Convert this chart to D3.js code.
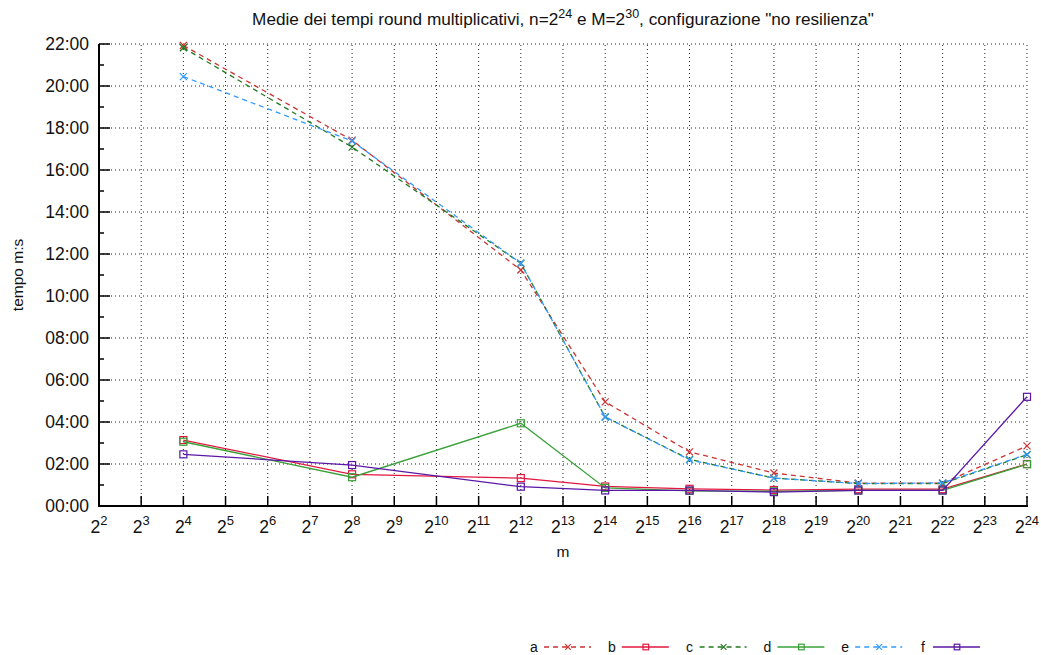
<!DOCTYPE html>
<html>
<head>
<meta charset="utf-8">
<script src="https://cdn.jsdelivr.net/npm/d3@7"></script>
<style>
  body { margin: 0; background: #fff; }
  svg { display: block; font-family: "Liberation Sans", Arial, sans-serif; }
</style>
</head>
<body>
<svg width="1041" height="655"></svg>
<script>
// exponents of m (x = 2^k), ticks from 2^2 to 2^24
const xTicks = d3.range(2, 25);
const exps = [4, 8, 12, 14, 16, 18, 20, 22, 24];

// mean times, in minutes
const serA = [21.93, 17.42, 11.24, 4.96, 2.58, 1.57, 1.09, 1.09, 2.86];
const serB = [3.14, 1.51, 1.33, 0.93, 0.82, 0.76, 0.80, 0.80, 2.00];
const serC = [21.82, 17.09, 11.56, 4.24, 2.22, 1.33, 1.07, 1.07, 2.44];
const serD = [3.06, 1.37, 3.94, 0.86, 0.72, 0.70, 0.74, 0.74, 1.99];
const serE = [20.45, 17.38, 11.56, 4.24, 2.20, 1.33, 1.07, 1.10, 2.46];
const serF = [2.46, 1.95, 0.92, 0.74, 0.74, 0.66, 0.74, 0.74, 5.20];

const yTicks = d3.range(0, 23, 2);
const yMinor = d3.range(1, 22, 2);

const series = [
  { name: "a", vals: serA, color: "#cc3333", dash: "5,4", mark: "x" },
  { name: "b", vals: serB, color: "#e3173f", dash: null, mark: "sq" },
  { name: "c", vals: serC, color: "#1f7a1f", dash: "5,4", mark: "x" },
  { name: "d", vals: serD, color: "#38a038", dash: null, mark: "sq" },
  { name: "e", vals: serE, color: "#3399ff", dash: "5,4", mark: "x" },
  { name: "f", vals: serF, color: "#5a17a6", dash: null, mark: "sq" }
];

const svg = d3.select("svg");
const pL = 99, pR = 1027, pT = 44, pB = 506;

const x = d3.scaleLinear().domain([2, 24]).range([pL, pR]);
const y = d3.scaleLinear().domain([0, 22]).range([pB, pT]);

const fmt = m => d3.format("02d")(m) + ":00";

// grid
svg.append("g").selectAll("line")
  .data(yTicks.slice(1))
  .enter().append("line")
  .attr("x1", pL).attr("x2", pR)
  .attr("y1", d => y(d)).attr("y2", d => y(d))
  .attr("stroke", "#222").attr("stroke-width", 1)
  .attr("stroke-dasharray", "1,3");

svg.append("g").selectAll("line")
  .data(xTicks.slice(1))
  .enter().append("line")
  .attr("x1", d => x(d)).attr("x2", d => x(d))
  .attr("y1", pB).attr("y2", pT)
  .attr("stroke", "#222").attr("stroke-width", 1)
  .attr("stroke-dasharray", "1,3");

// axes lines
svg.append("line").attr("x1", pL).attr("x2", pL).attr("y1", pB + 1).attr("y2", pT)
  .attr("stroke", "#000").attr("stroke-width", 2);
svg.append("line").attr("x1", pL - 1).attr("x2", pR + 1).attr("y1", pB).attr("y2", pB)
  .attr("stroke", "#000").attr("stroke-width", 2);

// y ticks (inward)
svg.append("g").selectAll("line")
  .data(yTicks)
  .enter().append("line")
  .attr("x1", pL).attr("x2", pL + 11)
  .attr("y1", d => y(d)).attr("y2", d => y(d))
  .attr("stroke", "#000").attr("stroke-width", 1.5);
svg.append("g").selectAll("line")
  .data(yMinor)
  .enter().append("line")
  .attr("x1", pL).attr("x2", pL + 5)
  .attr("y1", d => y(d)).attr("y2", d => y(d))
  .attr("stroke", "#000").attr("stroke-width", 1.5);

svg.append("g").selectAll("text")
  .data(yTicks)
  .enter().append("text")
  .attr("x", pL - 10).attr("y", d => y(d) + 6)
  .attr("text-anchor", "end")
  .attr("font-size", 17.5)
  .attr("fill", "#111")
  .text(fmt);

// x ticks (inward, upward)
svg.append("g").selectAll("line")
  .data(xTicks)
  .enter().append("line")
  .attr("x1", d => x(d)).attr("x2", d => x(d))
  .attr("y1", pB).attr("y2", pB - 10)
  .attr("stroke", "#000").attr("stroke-width", 1.5);

const xl = svg.append("g").selectAll("text")
  .data(xTicks)
  .enter().append("text")
  .attr("x", d => x(d)).attr("y", 533)
  .attr("text-anchor", "middle")
  .attr("font-size", 17.5)
  .attr("fill", "#111");
xl.append("tspan").text("2");
xl.append("tspan").attr("dy", -8).attr("font-size", 13).text(d => d);

// titles
const title = svg.append("text")
  .attr("x", (pL + pR) / 2).attr("y", 25)
  .attr("text-anchor", "middle")
  .attr("font-size", 17.2)
  .attr("fill", "#111");
title.append("tspan").text("Medie dei tempi round multiplicativi, n=2");
title.append("tspan").attr("dy", -7).attr("font-size", 12.5).text("24");
title.append("tspan").attr("dy", 7).text(" e M=2");
title.append("tspan").attr("dy", -7).attr("font-size", 12.5).text("30");
title.append("tspan").attr("dy", 7).text(", configurazione \"no resilienza\"");

svg.append("text")
  .attr("transform", "translate(23," + ((pT + pB) / 2) + ") rotate(-90)")
  .attr("text-anchor", "middle")
  .attr("font-size", 15.5)
  .attr("fill", "#111")
  .text("tempo m:s");

svg.append("text")
  .attr("x", (pL + pR) / 2).attr("y", 557)
  .attr("text-anchor", "middle")
  .attr("font-size", 15.5)
  .attr("fill", "#111")
  .text("m");

// series
const line = d3.line()
  .x((d, i) => x(exps[i]))
  .y(d => y(d));

function drawMark(g, cx, cy, s, r) {
  if (s.mark === "x") {
    g.append("path")
      .attr("d", `M${cx - r},${cy - r}L${cx + r},${cy + r}M${cx - r},${cy + r}L${cx + r},${cy - r}`)
      .attr("stroke", s.color).attr("stroke-width", 1.2).attr("fill", "none");
  } else {
    g.append("rect")
      .attr("x", cx - r).attr("y", cy - r)
      .attr("width", 2 * r).attr("height", 2 * r)
      .attr("stroke", s.color).attr("stroke-width", 1.2).attr("fill", "none");
  }
}

series.forEach(s => {
  const g = svg.append("g");
  g.append("path")
    .datum(s.vals)
    .attr("d", line)
    .attr("fill", "none")
    .attr("stroke", s.color)
    .attr("stroke-width", 1.3)
    .attr("stroke-dasharray", s.dash);
  s.vals.forEach((v, i) => drawMark(g, x(exps[i]), y(v), s, 3.5));
});

// legend
const legY = 647;
series.forEach((s, i) => {
  const lx = 530 + i * 77.8;
  const g = svg.append("g");
  g.append("text")
    .attr("x", lx + 4).attr("y", legY + 5)
    .attr("text-anchor", "middle")
    .attr("font-size", 14)
    .attr("fill", "#111")
    .text(s.name);
  g.append("line")
    .attr("x1", lx + 14).attr("x2", lx + 61)
    .attr("y1", legY).attr("y2", legY)
    .attr("stroke", s.color).attr("stroke-width", 1.3)
    .attr("stroke-dasharray", s.dash);
  drawMark(g, lx + 38, legY, s, 2.8);
});
</script>
</body>
</html>
